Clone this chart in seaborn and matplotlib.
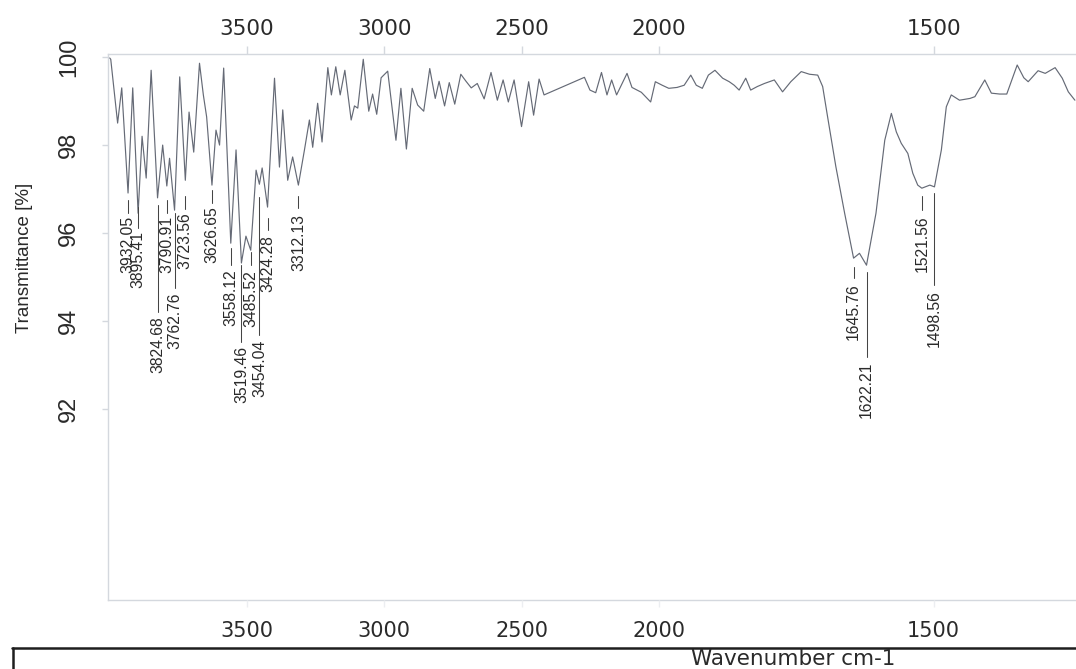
import numpy as np
import pandas as pd
import matplotlib
matplotlib.use("Agg")
import matplotlib.pyplot as plt
from matplotlib.lines import Line2D
from matplotlib.ticker import NullLocator
import seaborn as sns

# IR spectrum: wavenumber (cm-1) and transmittance (%)
wavenumber = [
    3999, 3995, 3970, 3955, 3932.05, 3915, 3895.41, 3881, 3866, 3848,
    3824.68, 3806, 3790.91, 3781, 3762.76, 3744, 3723.56, 3710, 3693, 3672,
    3658, 3646, 3626.65, 3612, 3599, 3584, 3558.12, 3539, 3519.46, 3503,
    3485.52, 3466, 3454.04, 3444, 3424.28, 3399, 3381, 3369, 3351, 3333,
    3312.13, 3290, 3272, 3260, 3242, 3226, 3205, 3192, 3176, 3160,
    3143, 3120, 3108, 3096, 3076, 3056, 3042, 3027, 3011, 2987,
    2957, 2939, 2919, 2898, 2878, 2856, 2834, 2814, 2800, 2780,
    2763, 2743, 2721, 2702, 2683, 2661, 2636, 2611, 2588, 2567,
    2548, 2527, 2500, 2474, 2456, 2436, 2418, 2271, 2251, 2230,
    2209, 2189, 2172, 2154, 2116, 2098, 2064, 2030, 2013, 1994,
    1982, 1967, 1954, 1942, 1932, 1921, 1910, 1898, 1884, 1872,
    1863, 1854, 1842, 1833, 1821, 1808, 1790, 1775, 1760, 1741,
    1726, 1711, 1702, 1693, 1678, 1662, 1645.76, 1635, 1622.21, 1605,
    1589, 1577, 1568, 1559, 1547, 1538, 1529, 1521.56, 1507, 1498.56,
    1486, 1477, 1468, 1453, 1434, 1425, 1407, 1395, 1380, 1367,
    1348, 1336, 1328, 1310, 1297, 1279, 1266, 1255, 1243,
]
transmittance = [
    99.98, 99.95, 98.50, 99.30, 96.91, 99.30, 96.45, 98.20, 97.25, 99.70,
    96.80, 98.00, 97.07, 97.70, 96.52, 99.55, 97.20, 98.75, 97.84, 99.86,
    99.14, 98.64, 97.09, 98.34, 98.00, 99.75, 95.77, 97.89, 95.32, 95.93,
    95.61, 97.43, 97.11, 97.48, 96.59, 99.52, 97.50, 98.80, 97.20, 97.73,
    97.09, 97.89, 98.57, 97.95, 98.95, 98.07, 99.76, 99.14, 99.78, 99.14,
    99.70, 98.57, 98.89, 98.84, 99.95, 98.77, 99.16, 98.70, 99.53, 99.68,
    98.11, 99.29, 97.91, 99.29, 98.91, 98.77, 99.74, 99.06, 99.45, 98.89,
    99.42, 98.93, 99.61, 99.45, 99.30, 99.40, 99.05, 99.65, 99.02, 99.48,
    98.98, 99.48, 98.42, 99.44, 98.68, 99.50, 99.14, 99.54, 99.25, 99.19,
    99.65, 99.14, 99.48, 99.14, 99.63, 99.31, 99.20, 98.98, 99.44, 99.36,
    99.29, 99.31, 99.36, 99.59, 99.36, 99.29, 99.59, 99.70, 99.52, 99.44,
    99.36, 99.25, 99.52, 99.25, 99.33, 99.40, 99.48, 99.21, 99.44, 99.67,
    99.61, 99.59, 99.33, 98.64, 97.51, 96.45, 95.43, 95.54, 95.27, 96.45,
    98.11, 98.72, 98.30, 98.04, 97.81, 97.36, 97.09, 97.02, 97.09, 97.05,
    97.89, 98.87, 99.14, 99.02, 99.06, 99.10, 99.48, 99.18, 99.16, 99.16,
    99.82, 99.53, 99.44, 99.69, 99.63, 99.76, 99.52, 99.21, 99.02,
]

# picked band positions (cm-1)
peak_wavenumbers = [
    3932.05, 3895.41, 3824.68, 3790.91, 3762.76, 3723.56, 3626.65,
    3558.12, 3519.46, 3485.52, 3454.04, 3424.28, 3312.13,
    1645.76, 1622.21, 1521.56, 1498.56,
]

x_ticks = [3500, 3000, 2500, 2000, 1500]
y_ticks = [92, 94, 96, 98, 100]

# stem of each band label: (upper end, lower end, top of text), in %T
label_layout = [
    (96.75, 96.45, 96.39), (96.59, 96.11, 96.05), (96.64, 94.20, 94.11),
    (96.75, 96.45, 96.39), (96.45, 94.75, 94.66), (96.84, 96.55, 96.48),
    (96.98, 96.68, 96.61), (95.66, 95.27, 95.18), (95.27, 93.52, 93.43),
    (95.57, 95.27, 95.16), (96.82, 93.68, 93.57), (96.34, 96.07, 95.95),
    (96.84, 96.57, 96.43), (95.23, 94.98, 94.86), (95.11, 93.18, 93.07),
    (96.84, 96.52, 96.41), (96.91, 94.82, 94.70),
]


def to_axis(w):
    # the region above 2000 cm-1 is compressed by a factor of two
    w = np.asarray(w, dtype=float)
    return np.where(w > 2000, 2000 + (w - 2000) / 2.0, w)


def from_axis(u):
    u = np.asarray(u, dtype=float)
    return np.where(u > 2000, 2000 + (u - 2000) * 2.0, u)


sns.set_theme(style="white")
plt.rcParams["font.family"] = ["Liberation Sans", "DejaVu Sans"]

W, H = 1076, 669
fig = plt.figure(figsize=(W / 100, H / 100), dpi=100)
ax = fig.add_axes([108 / W, 1 - 600 / H, 968 / W, 546 / H])
ax_bottom = ax.twiny()

XLIM = (4005, 1241)
YLIM = (87.66, 100.07)
SPINE = "#d4d8de"
TEXT = "#2a2a2a"

for a in (ax, ax_bottom):
    a.set_xscale("function", functions=(to_axis, from_axis))

spectrum = pd.DataFrame({"wavenumber": wavenumber, "transmittance": transmittance})
sns.lineplot(data=spectrum, x="wavenumber", y="transmittance", sort=False,
             estimator=None, ax=ax, color="#656a76", linewidth=0.85)

ax.set_xlim(*XLIM)
ax.set_ylim(*YLIM)
ax_bottom.set_xlim(*XLIM)

# band labels
for wn, (top, bottom, text_top) in zip(peak_wavenumbers, label_layout):
    ax.plot([wn, wn], [top, bottom], color="#454545", linewidth=0.75)
    ax.text(wn, text_top, f"{wn:.2f}", rotation=90, ha="center", va="top",
            fontsize=11.3, color=TEXT)

# top wavenumber axis
ax.set_xlabel("")
ax.set_ylabel("")
ax.xaxis.tick_top()
ax.set_xticks(x_ticks)
ax.set_xticklabels([str(t) for t in x_ticks])
ax.xaxis.set_minor_locator(NullLocator())
ax.tick_params(axis="x", top=True, bottom=False, labeltop=True, labelbottom=False,
               direction="out", length=6, width=1, color=SPINE, pad=5,
               labelsize=15.5, labelcolor=TEXT)
for lbl in ax.get_xticklabels():
    lbl.set_fontfamily("DejaVu Sans")

# bottom wavenumber axis
ax_bottom.xaxis.tick_bottom()
ax_bottom.set_xticks(x_ticks)
ax_bottom.set_xticklabels([str(t) for t in x_ticks])
ax_bottom.xaxis.set_minor_locator(NullLocator())
ax_bottom.tick_params(axis="x", top=False, bottom=True, labeltop=False, labelbottom=True,
                      direction="out", length=5, width=1, color="#eceef1", pad=10,
                      labelsize=15, labelcolor=TEXT)
for lbl in ax_bottom.get_xticklabels():
    lbl.set_fontfamily("DejaVu Sans")
for s in ax_bottom.spines.values():
    s.set_visible(False)

# transmittance axis
ax.set_yticks(y_ticks)
ax.set_yticklabels([str(t) for t in y_ticks])
ax.yaxis.set_minor_locator(NullLocator())
ax.tick_params(axis="y", left=True, right=False, direction="out", length=4, width=1,
               color=SPINE, pad=16, labelsize=17, labelcolor=TEXT, labelrotation=90)
for lbl in ax.get_yticklabels():
    lbl.set_va("center")

for side in ("top", "left", "bottom"):
    ax.spines[side].set_color(SPINE)
    ax.spines[side].set_linewidth(1)
ax.spines["right"].set_visible(False)

fig.text(25 / W, 1 - 258 / H, "Transmittance [%]", rotation=90, ha="center",
         va="center", fontsize=13.5, color=TEXT)
fig.text(793 / W, 1 - 659 / H, "Wavenumber cm-1", ha="center", va="center",
         fontsize=15.5, color=TEXT, family="DejaVu Sans")

# frame around the axis-title strip
fig.add_artist(Line2D([12 / W, 1.0], [1 - 648 / H, 1 - 648 / H],
                      transform=fig.transFigure, color="#1e1e1e", linewidth=1.8))
fig.add_artist(Line2D([13 / W, 13 / W], [1 - 648 / H, 0.0],
                      transform=fig.transFigure, color="#1e1e1e", linewidth=1.8))

fig.savefig("out.png", dpi=100)
